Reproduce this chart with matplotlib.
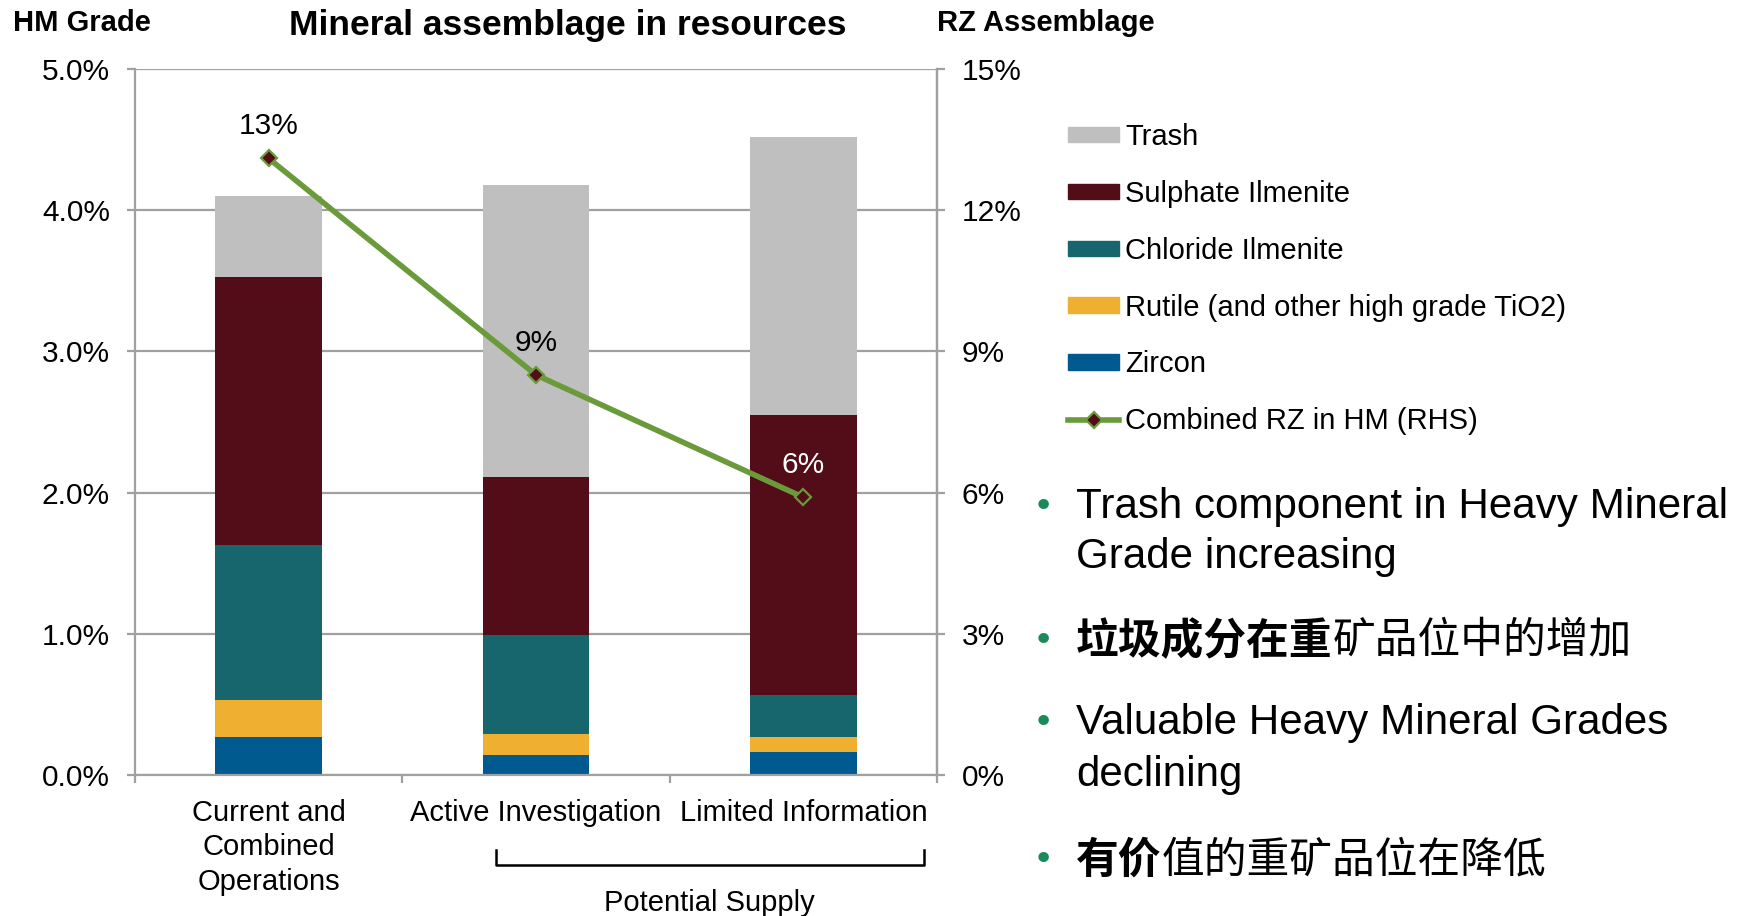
import numpy as np
import matplotlib
matplotlib.use("Agg")
import matplotlib.pyplot as plt
import matplotlib.transforms as mtransforms
from matplotlib.patches import Patch
from matplotlib.lines import Line2D
from matplotlib.ticker import FuncFormatter

plt.rcParams['font.family'] = ['Liberation Sans', 'Noto Sans CJK SC', 'DejaVu Sans']

# data (HM grade, % of ore)
categories = ["Current and\nCombined\nOperations", "Active Investigation", "Limited Information"]
zircon = [0.27, 0.14, 0.16]
rutile = [0.26, 0.15, 0.11]
chloride = [1.10, 0.70, 0.30]
sulphate = [1.90, 1.12, 1.98]
trash = [0.57, 2.07, 1.97]
rz_in_hm = [13.1, 8.5, 5.9]          # right hand axis, %
rz_labels = ["13%", "9%", "6%"]
left_ticks = [0, 1, 2, 3, 4, 5]
right_ticks = [0, 3, 6, 9, 12, 15]

colors = {
    "Zircon": "#005A8F",
    "Rutile (and other high grade TiO2)": "#EFAF30",
    "Chloride Ilmenite": "#17666E",
    "Sulphate Ilmenite": "#520D18",
    "Trash": "#BFBFBF",
}
line_c = "#6A9A3A"
grid_c = "#A0A0A0"
W, H = 1739, 916

fig = plt.figure(figsize=(W / 100, H / 100), dpi=100)
ax = fig.add_axes([135 / W, 1 - 775 / H, (937 - 135) / W, (775 - 69) / H])

x = np.arange(len(categories))
bottom = np.zeros(len(categories))
stack = [("Zircon", zircon), ("Rutile (and other high grade TiO2)", rutile),
         ("Chloride Ilmenite", chloride), ("Sulphate Ilmenite", sulphate), ("Trash", trash)]
for name, vals in stack:
    ax.bar(x, vals, 0.4, bottom=bottom, color=colors[name], zorder=2)
    bottom += np.array(vals)

ax.set_xlim(-0.5, 2.5)
ax.set_ylim(0, 5)
ax.set_yticks(left_ticks)
ax.yaxis.set_major_formatter(FuncFormatter(lambda v, p: f"{v:.1f}%"))
ax.grid(axis='y', color=grid_c, lw=1.6, zorder=0)
ax.set_axisbelow(True)
ax.set_xticks(x, categories)
ax.set_xticks([-0.5, 0.5, 1.5, 2.5], minor=True)
ax.tick_params(axis='x', which='major', length=0, pad=17, labelsize=21)
ax.tick_params(axis='x', which='minor', length=6, width=1.6, color=grid_c)
ax.tick_params(axis='y', length=6, width=1.6, color=grid_c, pad=12, labelsize=21.5)
for lbl in ax.get_xticklabels():
    lbl.set_linespacing(1.3)
ax.spines["top"].set_visible(False)
for s in ["left", "bottom", "right"]:
    ax.spines[s].set_color(grid_c)
    ax.spines[s].set_linewidth(1.6)

# combined RZ line on the right hand axis
ax2 = ax.twinx()
ax2.set_ylim(0, 15)
ax2.set_yticks(right_ticks)
ax2.yaxis.set_major_formatter(FuncFormatter(lambda v, p: f"{v:.0f}%"))
ax2.tick_params(axis='y', length=6, width=1.6, color=grid_c, pad=12, labelsize=21.5)
for s in ["top", "left", "bottom"]:
    ax2.spines[s].set_visible(False)
ax2.spines["right"].set_color(grid_c)
ax2.spines["right"].set_linewidth(1.6)
ax2.plot(x, rz_in_hm, color=line_c, lw=4, marker='D', ms=8.5,
         mfc="#520D18", mec=line_c, mew=1.6, zorder=3)
for i, (xi, yi) in enumerate(zip(x, rz_in_hm)):
    ax2.annotate(rz_labels[i], (xi, yi), xytext=(0, 23), textcoords='offset points',
                 ha='center', va='center', fontsize=21.5,
                 color='white' if i == 2 else 'black')

# bracket for potential supply
tr = mtransforms.blended_transform_factory(ax.transData, ax.transAxes)
ax.plot([0.85, 0.85, 2.45, 2.45], [-0.106, -0.128, -0.128, -0.106], color='black',
        lw=1.8, transform=tr, clip_on=False)
ax.text(1.65, -0.182, "Potential Supply", transform=tr, ha='center', va='center', fontsize=21)

# titles
fig.text(568 / W, 1 - 26 / H, "Mineral assemblage in resources", ha='center', va='center',
         fontsize=25.5, fontweight='bold')
fig.text(13 / W, 1 - 23 / H, "HM Grade", ha='left', va='center', fontsize=21, fontweight='bold')
fig.text(937 / W, 1 - 23 / H, "RZ Assemblage", ha='left', va='center', fontsize=21, fontweight='bold')

# legend
handles = [Patch(color=colors["Trash"]), Patch(color=colors["Sulphate Ilmenite"]),
           Patch(color=colors["Chloride Ilmenite"]),
           Patch(color=colors["Rutile (and other high grade TiO2)"]), Patch(color=colors["Zircon"]),
           Line2D([], [], color=line_c, lw=4, marker='D', ms=8.5, mfc="#520D18", mec=line_c, mew=1.6)]
labels = ["Trash", "Sulphate Ilmenite", "Chloride Ilmenite",
          "Rutile (and other high grade TiO2)", "Zircon", "Combined RZ in HM (RHS)"]
fig.legend(handles, labels, loc='upper left', bbox_to_anchor=(1068 / W, 1 - 123 / H),
           frameon=False, fontsize=21, handlelength=1.75, handleheight=0.45,
           handletextpad=0.2, labelspacing=0.99, borderpad=0, borderaxespad=0)

# bullet points
bullet_c = "#1A8A5A"
tx = 1076 / W
bx = 1043 / W
fs = 30.3
for yb in [507, 641, 723, 860]:
    fig.text(bx, 1 - yb / H, "\u2022", color=bullet_c, fontsize=26, ha='center', va='center',
             family=['DejaVu Sans'])
fig.text(tx, 1 - 507 / H, "Trash component in Heavy Mineral", fontsize=fs, va='center')
fig.text(tx, 1 - 557 / H, "Grade increasing", fontsize=fs, va='center')
fig.text(tx, 1 - 723 / H, "Valuable Heavy Mineral Grades", fontsize=fs, va='center')
fig.text(tx, 1 - 775 / H, "declining", fontsize=fs, va='center')

fig.canvas.draw()
renderer = fig.canvas.get_renderer()
for yb, bold_part, rest in [(641, "垃圾成分在重", "矿品位中的增加"), (860, "有价", "值的重矿品位在降低")]:
    t = fig.text(tx, 1 - yb / H, bold_part, fontsize=30.8, va='center', fontweight='bold',
                 family=['Noto Sans CJK SC', 'DejaVu Sans'])
    bb = t.get_window_extent(renderer)
    fig.text(bb.x1 / W, 1 - yb / H, rest, fontsize=30.8, va='center',
             family=['Noto Sans CJK SC', 'DejaVu Sans'])

fig.savefig("out.png", dpi=100)
